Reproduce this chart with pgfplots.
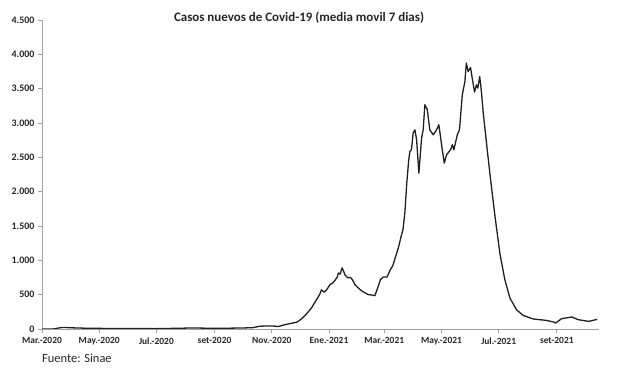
\documentclass[border=0pt]{standalone}
\usepackage{fontspec}
\setmainfont{Carlito}
\usepackage{pgfplots}
\pgfplotsset{compat=1.18}
\definecolor{axgray}{HTML}{A0A0A0}
\begin{document}
\begin{tikzpicture}
\useasboundingbox (0,0) rectangle (617bp,369bp);
\begin{axis}[
  at={(42bp,40bp)}, anchor=south west,
  scale only axis, width=557bp, height=309bp,
  xmin=0, xmax=594, ymin=0, ymax=4500,
  axis x line=bottom, axis y line=left,
  axis line style={axgray, -, line width=0.9bp},
  tick style={axgray, line width=0.8bp},
  tick align=outside, major tick length=4bp,
  ytick={0,500,...,4500},
  xtick={0,61,122,184,245,306,365,426,487,549},
  xticklabels={Mar.-2020, May.-2020, Jul.-2020, set-2020, Nov.-2020, Ene.-2021, Mar.-2021, May.-2021, Jul.-2021, set-2021},
  scaled y ticks=false,
  /pgf/number format/.cd, 1000 sep={.}, assume math mode=true,
  /pgfplots/.cd,
  yticklabel style={font=\bfseries\fontsize{10}{12}\selectfont, text=black!85},
  xticklabel style={font=\bfseries\fontsize{9.5}{12}\selectfont, text=black!85, yshift=-1bp},
]
\addplot[black!88, line width=1.3bp, line join=round] coordinates {
(0,0) (10,0) (13,2) (16,10) (20,20) (25,22) (30,18) (40,14) (50,10) (60,9)
(75,8) (90,7) (105,6) (120,5) (135,8) (150,12) (160,15) (170,13) (185,10)
(200,12) (215,15) (225,20) (232,40) (240,45) (248,42) (252,35) (258,60)
(265,80) (272,100) (276,140) (280,190) (284,250) (288,320) (292,410)
(296,500) (298,570) (301,535) (304,580) (307,645) (310,670) (312,700)
(315,760) (316,815) (318,800) (320,890) (322,830) (323,790) (326,745)
(329,750) (331,718) (334,640) (336,615) (340,565) (344,530) (348,500)
(352,495) (355,485) (358,600) (361,720) (364,757) (368,757) (371,850)
(374,920) (377,1050) (380,1180) (383,1350) (385,1450) (387,1700)
(389,2125) (391,2450) (392.3,2585) (394,2610) (395.8,2853) (397.7,2900)
(399.5,2755) (401.9,2270) (404.8,2780) (406.5,2900) (408.3,3265)
(410.8,3200) (413.6,2900) (417.2,2828) (420.8,2900) (423.2,2974)
(424.7,2828) (426.1,2683) (429,2416) (431.4,2537) (435.7,2610)
(437.6,2683) (439.2,2610) (442.9,2828) (445.2,2900) (448.2,3410)
(451,3604) (452.5,3872) (454.5,3750) (457,3808) (458.8,3653)
(461.3,3450) (463.3,3556) (464.7,3508) (466.8,3677) (468.6,3459)
(470.4,3167) (474.6,2634) (478.2,2198) (483,1650) (488.3,1100)
(493.6,718) (499,451) (506,281) (513,198) (523.8,146) (538,125)
(546,100) (547.8,87) (554,150) (565,175) (572,135) (583,111) (592,140)
};
\end{axis}
\node[font=\bfseries\fontsize{13}{15}\selectfont, text=black!85] at (299bp,351bp) {Casos nuevos de Covid-19 (media movil 7 dias)};
\node[anchor=west, inner sep=0pt, font=\fontsize{12.5}{14}\selectfont, text=black!85] at (42bp,11bp) {Fuente: Sinae};
\end{tikzpicture}
\end{document}
